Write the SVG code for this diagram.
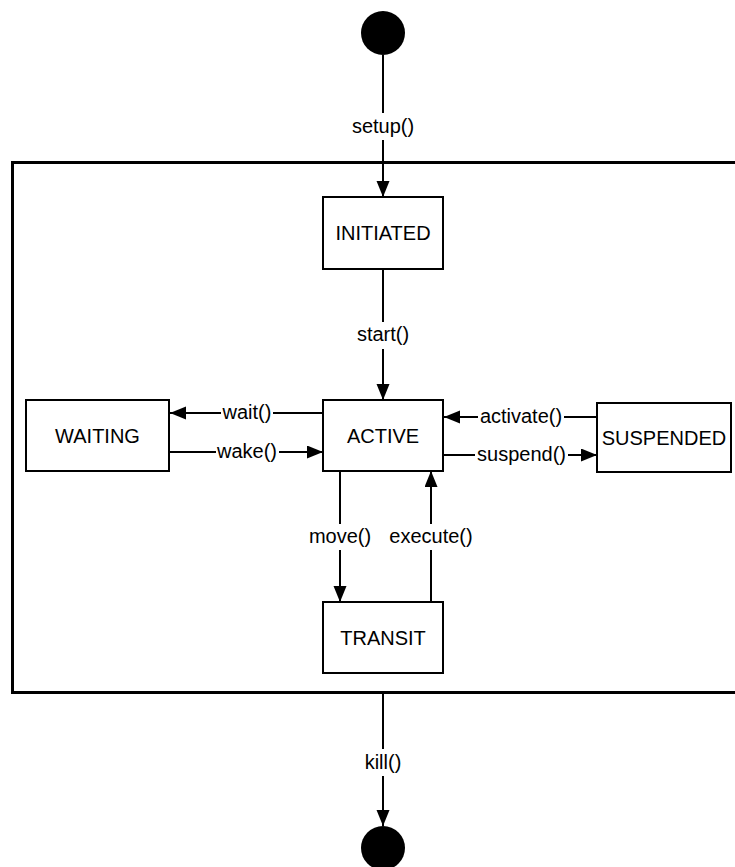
<svg xmlns="http://www.w3.org/2000/svg" width="735" height="867" viewBox="0 0 735 867">
<style>
.box{fill:#fff;stroke:#000;stroke-width:2}
.t{font-family:"Liberation Sans",Arial,sans-serif;font-size:20px;fill:#000;text-anchor:middle}
.c{stroke:#000;stroke-width:2;fill:none;marker-end:url(#ah)}
.bg{fill:#fff}
</style>
<defs>
<marker id="ah" markerUnits="userSpaceOnUse" markerWidth="17" markerHeight="14" refX="16" refY="6.5" orient="auto">
<path d="M0,0 L16,6.5 L0,13 z" fill="#000"/>
</marker>
</defs>
<rect id="container" x="12.5" y="162.5" width="740" height="530" fill="none" stroke="#000" stroke-width="3"/>
<g id="start-node"><circle cx="383" cy="33" r="22" fill="#000"/></g>
<g id="end-node"><circle cx="383" cy="848" r="22" fill="#000"/></g>
<g id="connectors">
<path class="c" d="M383,55 V197"/>
<path class="c" d="M383,269 V400"/>
<path class="c" d="M323,413 H170"/>
<path class="c" d="M170,452 H323"/>
<path class="c" d="M597,417 H444"/>
<path class="c" d="M443,455 H597"/>
<path class="c" d="M340,471 V602"/>
<path class="c" d="M431,602 V471"/>
<path class="c" d="M383,694 V826"/>
<rect class="bg" x="350" y="113" width="66" height="27"/>
<text class="t" x="383" y="133">setup()</text>
<rect class="bg" x="355" y="322" width="56" height="27"/>
<text class="t" x="383" y="341">start()</text>
<rect class="bg" x="221" y="404" width="52" height="20"/>
<text class="t" x="247" y="419">wait()</text>
<rect class="bg" x="216" y="442" width="63" height="20"/>
<text class="t" x="247" y="458">wake()</text>
<rect class="bg" x="478" y="408" width="86" height="20"/>
<text class="t" x="521" y="423">activate()</text>
<rect class="bg" x="475" y="446" width="93" height="20"/>
<text class="t" x="521.5" y="461">suspend()</text>
<rect class="bg" x="308" y="524" width="64" height="26"/>
<text class="t" x="340" y="543">move()</text>
<rect class="bg" x="388" y="524" width="87" height="26"/>
<text class="t" x="431" y="543">execute()</text>
<rect class="bg" x="364" y="749" width="38" height="27"/>
<text class="t" x="383" y="769">kill()</text>
</g>
<g id="initiated"><rect class="box" x="323" y="197" width="120" height="72"/><text class="t" x="383" y="240">INITIATED</text></g>
<g id="active"><rect class="box" x="323" y="400" width="120" height="71"/><text class="t" x="383" y="443">ACTIVE</text></g>
<g id="waiting"><rect class="box" x="26" y="400" width="143" height="71"/><text class="t" x="97.5" y="443">WAITING</text></g>
<g id="suspended"><rect class="box" x="597" y="403" width="134" height="69"/><text class="t" x="664" y="445">SUSPENDED</text></g>
<g id="transit"><rect class="box" x="323" y="602" width="120" height="71"/><text class="t" x="383" y="645">TRANSIT</text></g>
</svg>
